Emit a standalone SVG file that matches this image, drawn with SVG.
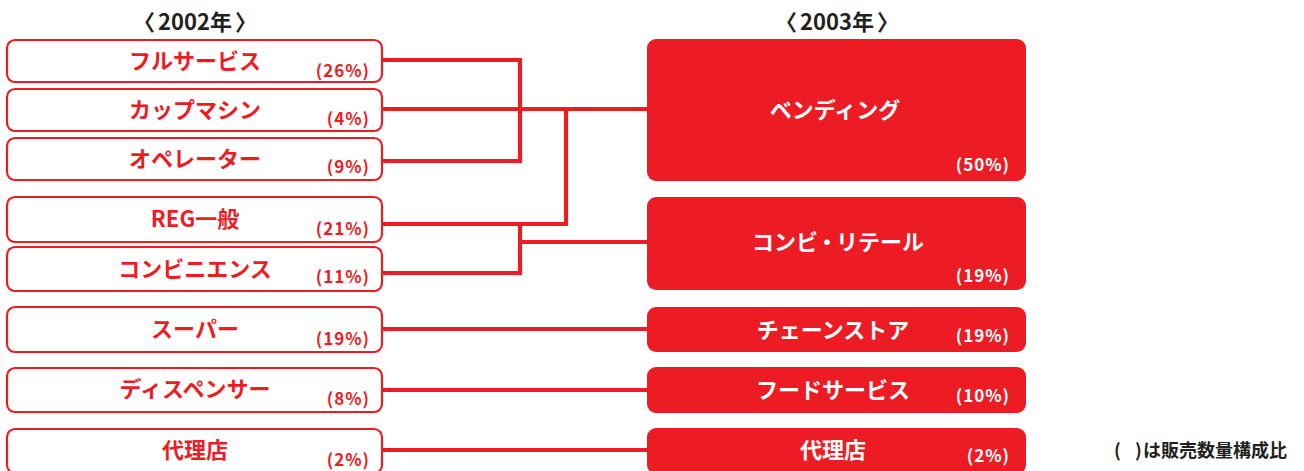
<svg xmlns="http://www.w3.org/2000/svg" width="1304" height="471" viewBox="0 0 1304 471">
<style>
.lbox{fill:#fff;stroke:#ED1C24;stroke-width:2.2}
.rbox{fill:#ED1C24}
.t{font-family:"Noto Sans CJK JP","Noto Sans",sans-serif;font-weight:700}
.ll{fill:#ED1C24;font-size:22px;text-anchor:middle}
.lp{fill:#ED1C24;font-size:17px;text-anchor:end;letter-spacing:1px}
.rl{fill:#fff;font-size:22px;text-anchor:middle}
.rp{fill:#fff;font-size:17px;text-anchor:end;letter-spacing:1px}
.hd{fill:#231F20;font-size:22px;text-anchor:middle}
.conn{fill:none;stroke:#ED1C24;stroke-width:4.2}
</style>
<rect width="1304" height="471" fill="#fff"/>
<text class="t hd" x="195" y="30"><tspan>〈</tspan><tspan dx="3">2002年</tspan><tspan dx="3">〉</tspan></text>
<text class="t hd" x="837" y="30"><tspan>〈</tspan><tspan dx="3">2003年</tspan><tspan dx="3">〉</tspan></text>
<g id="connectors">
<path class="conn" d="M383,60 H520 V161 H383"/>
<path class="conn" d="M383,109 H647"/>
<path class="conn" d="M566,109 V224 H383"/>
<path class="conn" d="M383,273 H520 V224"/>
<path class="conn" d="M520,242 H647"/>
<path class="conn" d="M383,329 H647"/>
<path class="conn" d="M383,390 H647"/>
<path class="conn" d="M383,450 H647"/>
</g>
<g id="l-fullservice"><rect class="lbox" x="7" y="40" width="375" height="42" rx="8"/><text class="t ll" x="195" y="69">フルサービス</text><text class="t lp" x="370" y="77">(26%)</text></g>
<g id="l-cupmachine"><rect class="lbox" x="7" y="89" width="375" height="42" rx="8"/><text class="t ll" x="195" y="118">カップマシン</text><text class="t lp" x="370" y="125">(4%)</text></g>
<g id="l-operator"><rect class="lbox" x="7" y="138" width="375" height="42" rx="8"/><text class="t ll" x="195" y="167">オペレーター</text><text class="t lp" x="370" y="173">(9%)</text></g>
<g id="l-reg"><rect class="lbox" x="7" y="197" width="375" height="45" rx="8"/><text class="t ll" x="195" y="227">REG一般</text><text class="t lp" x="370" y="235">(21%)</text></g>
<g id="l-convenience"><rect class="lbox" x="7" y="247" width="375" height="44" rx="8"/><text class="t ll" x="195" y="277">コンビニエンス</text><text class="t lp" x="370" y="283">(11%)</text></g>
<g id="l-super"><rect class="lbox" x="7" y="307" width="375" height="45" rx="8"/><text class="t ll" x="195" y="337">スーパー</text><text class="t lp" x="370" y="345">(19%)</text></g>
<g id="l-dispenser"><rect class="lbox" x="7" y="368" width="375" height="44" rx="8"/><text class="t ll" x="195" y="397">ディスペンサー</text><text class="t lp" x="370" y="405">(8%)</text></g>
<g id="l-agency"><rect class="lbox" x="7" y="429" width="375" height="44" rx="8"/><text class="t ll" x="195" y="458">代理店</text><text class="t lp" x="370" y="466">(2%)</text></g>
<g id="r-vending"><rect class="rbox" x="647" y="39" width="379" height="142" rx="9"/><text class="t rl" x="835" y="118">ベンディング</text><text class="t rp" x="1010" y="171">(50%)</text></g>
<g id="r-convi-retail"><rect class="rbox" x="647" y="197" width="379" height="93" rx="9"/><text class="t rl" x="838" y="250">コンビ<tspan dx="-2">・</tspan><tspan dx="-2">リテール</tspan></text><text class="t rp" x="1010" y="282">(19%)</text></g>
<g id="r-chainstore"><rect class="rbox" x="647" y="307" width="379" height="45" rx="9"/><text class="t rl" x="833" y="338">チェーンストア</text><text class="t rp" x="1010" y="342">(19%)</text></g>
<g id="r-foodservice"><rect class="rbox" x="647" y="367" width="379" height="46" rx="9"/><text class="t rl" x="833" y="398">フードサービス</text><text class="t rp" x="1010" y="402">(10%)</text></g>
<g id="r-agency"><rect class="rbox" x="647" y="428" width="379" height="46" rx="9"/><text class="t rl" x="833" y="458">代理店</text><text class="t rp" x="1010" y="462">(2%)</text></g>
<text class="t" y="457" fill="#231F20" font-size="18" font-weight="500"><tspan x="1114">(</tspan><tspan x="1135">)</tspan><tspan x="1143">は販売数量構成比</tspan></text>
</svg>
